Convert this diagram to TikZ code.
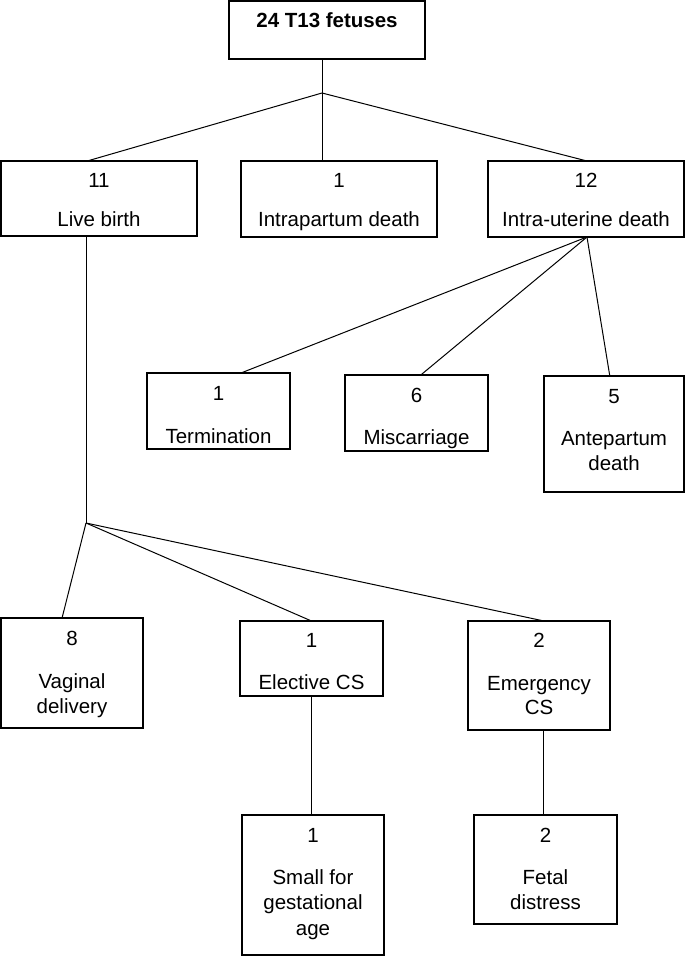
\documentclass[tikz,border=0pt]{standalone}
\usepackage{fontspec}
\setmainfont{Liberation Sans}
\usetikzlibrary{calc}
\begin{document}
\begin{tikzpicture}[x=1pt,y=-1pt,
  box/.style={draw,line width=1.2pt,anchor=north west,inner sep=0pt,outer sep=0pt},
  conn/.style={line width=1pt},
  lbl/.style={anchor=base,inner sep=0pt,font=\fontsize{20.5pt}{25pt}\selectfont},
  boldlbl/.style={anchor=base,inner sep=0pt,font=\fontsize{20.5pt}{25pt}\selectfont\bfseries}]
\fill[white] (0,0) rectangle (685,957);
\useasboundingbox (0,0) rectangle (685,957);
% boxes
\node[box,minimum width=196pt,minimum height=58pt] (top) at (229,1) {};
\node[box,minimum width=196pt,minimum height=75pt] (lb) at (1,161) {};
\node[box,minimum width=196pt,minimum height=76pt] (ip) at (241,161) {};
\node[box,minimum width=196pt,minimum height=76pt] (iu) at (488,161) {};
\node[box,minimum width=143pt,minimum height=76pt] (term) at (147,373) {};
\node[box,minimum width=143pt,minimum height=76pt] (misc) at (345,375) {};
\node[box,minimum width=140pt,minimum height=116pt] (ante) at (544,376) {};
\node[box,minimum width=142pt,minimum height=110pt] (vag) at (1,618) {};
\node[box,minimum width=143pt,minimum height=75pt] (elec) at (240,621) {};
\node[box,minimum width=142pt,minimum height=109pt] (emer) at (468,621) {};
\node[box,minimum width=142pt,minimum height=140pt] (small) at (242,815) {};
\node[box,minimum width=143pt,minimum height=109pt] (fetal) at (474,815) {};
% texts
\node[boldlbl] (topT) at (327,28) {24 T13 fetuses};
\node[lbl] (lbN) at (99,188) {11};
\node[lbl] (lbT) at (99,227) {Live birth};
\node[lbl] (ipN) at (339,188) {1};
\node[lbl] (ipT) at (339,227) {Intrapartum death};
\node[lbl] (iuN) at (586,188) {12};
\node[lbl] (iuT) at (586,227) {Intra-uterine death};
\node[lbl] (termN) at (218.5,400) {1};
\node[lbl] (termT) at (218.5,443) {Termination};
\node[lbl] (miscN) at (416.5,402) {6};
\node[lbl] (miscT) at (416.5,444) {Miscarriage};
\node[lbl] (anteN) at (614,403) {5};
\node[lbl] (anteT) at (614,445) {Antepartum};
\node[lbl] (anteT2) at (614,470) {death};
\node[lbl] (vagN) at (72,645) {8};
\node[lbl] (vagT) at (72,688) {Vaginal};
\node[lbl] (vagT2) at (72,713) {delivery};
\node[lbl] (elecN) at (311.5,647) {1};
\node[lbl] (elecT) at (311.5,689) {Elective CS};
\node[lbl] (emerN) at (539,647) {2};
\node[lbl] (emerT) at (539,690) {Emergency};
\node[lbl] (emerT2) at (539,714) {CS};
\node[lbl] (smallN) at (313,842) {1};
\node[lbl] (smallT) at (313,884) {Small for};
\node[lbl] (smallT2) at (313,909) {gestational};
\node[lbl] (smallT3) at (313,935) {age};
\node[lbl] (fetalN) at (545.5,842) {2};
\node[lbl] (fetalT) at (545.5,884) {Fetal};
\node[lbl] (fetalT2) at (545.5,909) {distress};
% connectors
\coordinate (J1) at (322,93);
\draw[conn] (top.south -| J1) -- (J1);
\draw[conn] (J1) -- ($(lb.north west)!0.44!(lb.north east)$);
\draw[conn] (J1) -- (ip.north -| J1);
\draw[conn] (J1) -- ($(iu.north west)!0.505!(iu.north east)$);
\coordinate (iuB) at ($(iu.south west)!0.505!(iu.south east)$);
\draw[conn] (iuB) -- ($(term.north west)!0.657!(term.north east)$);
\draw[conn] (iuB) -- ($(misc.north west)!0.53!(misc.north east)$);
\draw[conn] (iuB) -- ($(ante.north west)!0.47!(ante.north east)$);
\coordinate (J2) at (86,523);
\draw[conn] (lb.south -| J2) -- (J2);
\draw[conn] (J2) -- ($(vag.north west)!0.43!(vag.north east)$);
\draw[conn] (J2) -- (elec.north);
\draw[conn] (J2) -- ($(emer.north west)!0.535!(emer.north east)$);
\draw[conn] (elec.south) -- (small.north -| elec.south);
\coordinate (emB) at ($(emer.south west)!0.535!(emer.south east)$);
\draw[conn] (emB) -- (fetal.north -| emB);
\end{tikzpicture}
\end{document}
